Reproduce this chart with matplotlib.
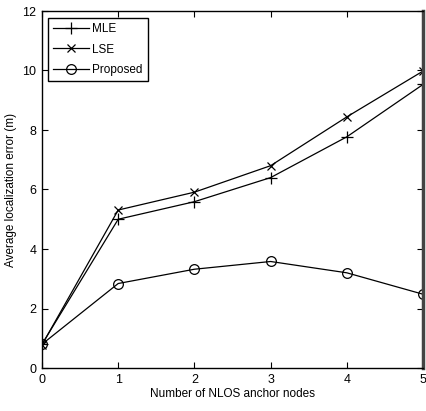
import matplotlib
matplotlib.use("Agg")
import matplotlib.pyplot as plt

x = [0, 1, 2, 3, 4, 5]
mle = [0.80, 5.00, 5.59, 6.40, 7.77, 9.53]
lse = [0.78, 5.31, 5.91, 6.80, 8.44, 9.98]
proposed = [0.80, 2.84, 3.32, 3.58, 3.20, 2.48]

plt.rcParams['font.family'] = ['Liberation Sans', 'DejaVu Sans']
fig = plt.figure(figsize=(4.27, 4.11), dpi=100)
ax = fig.add_axes([42/427, 1 - 368/411, (423-42)/427, (368-11)/411])

kw = dict(color='black', linewidth=0.9, markerfacecolor='none', markeredgecolor='black', markeredgewidth=0.9)
ax.plot(x, mle, marker='+', markersize=8, label='MLE', **kw)
ax.plot(x, lse, marker='x', markersize=6, label='LSE', **kw)
ax.plot(x, proposed, marker='o', markersize=7, label='Proposed', **kw)

ax.set_xlim(0, 5)
ax.set_ylim(0, 12)
ax.set_xticks(range(0, 6))
ax.set_yticks(range(0, 13, 2))
ax.tick_params(direction='in', top=True, right=True, labelsize=9, length=4, width=0.8, pad=4)
for s in ax.spines.values():
    s.set_linewidth(1.0)
ax.spines['right'].set_linewidth(2.5)
ax.spines['right'].set_color('#444444')

ax.set_xlabel('Number of NLOS anchor nodes', fontsize=8.5, labelpad=2)
ax.set_ylabel('Average localization error (m)', fontsize=8.5, labelpad=4)

leg = ax.legend(loc='upper left', fontsize=8.5, handlelength=3.0, fancybox=False,
                edgecolor='black', framealpha=1, borderpad=0.45, labelspacing=0.7,
                handletextpad=0.3, borderaxespad=0, bbox_to_anchor=(6/381, 1 - 7/357))
leg.get_frame().set_linewidth(1.0)

fig.savefig('out.png', dpi=100)
